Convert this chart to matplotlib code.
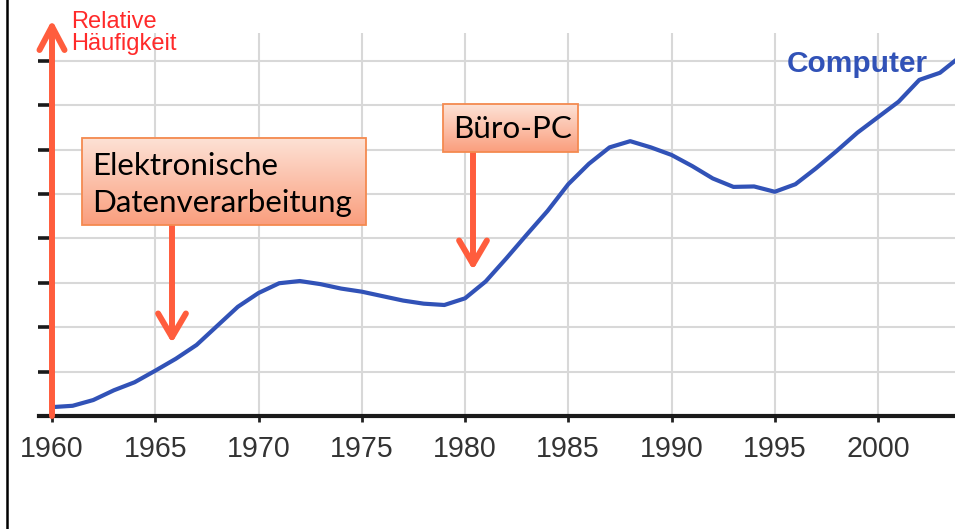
import matplotlib
matplotlib.use('Agg')
import matplotlib.pyplot as plt
import numpy as np
from matplotlib.patches import Rectangle
from matplotlib.lines import Line2D

# ---- data ----
years = [1960, 1961, 1962, 1963, 1964, 1965, 1966, 1967, 1968, 1969,
         1970, 1971, 1972, 1973, 1974, 1975, 1976, 1977, 1978, 1979,
         1980, 1981, 1982, 1983, 1984, 1985, 1986, 1987, 1988, 1989,
         1990, 1991, 1992, 1993, 1994, 1995, 1996, 1997, 1998, 1999,
         2000, 2001, 2002, 2003, 2004]
values = [0.20, 0.23, 0.36, 0.58, 0.76, 1.02, 1.29, 1.60, 2.03, 2.46,
          2.77, 2.99, 3.04, 2.97, 2.87, 2.80, 2.70, 2.60, 2.53, 2.50,
          2.65, 3.03, 3.55, 4.09, 4.62, 5.22, 5.68, 6.05, 6.19, 6.05,
          5.88, 5.63, 5.35, 5.16, 5.17, 5.05, 5.22, 5.58, 5.97, 6.38,
          6.73, 7.08, 7.57, 7.73, 8.10]
x_ticks = [1960, 1965, 1970, 1975, 1980, 1985, 1990, 1995, 2000]
x_tick_labels = ['1960', '1965', '1970', '1975', '1980', '1985', '1990', '1995', '2000']
series_label = 'Computer'
axis_label_lines = ['Relative', 'Häufigkeit']
annot_texts = ['Elektronische\nDatenverarbeitung', 'Büro-PC']

# ---- layout helpers (pixel -> data) ----
W, H = 955, 529
X0, PXY = 52, 20.65      # x pixel of 1960, pixels per year
Y0, PXV = 416, 44.4      # y pixel of value 0, pixels per unit

def dx(px):
    return 1960 + (px - X0) / PXY

def dy(py):
    return (Y0 - py) / PXV

fig = plt.figure(figsize=(W / 100, H / 100), dpi=100)
fig.patch.set_facecolor('white')
ax = fig.add_axes([X0 / W, (H - Y0) / H, (W - X0) / W, (Y0 - 33) / H])
ax.set_xlim(dx(52), dx(955))
ax.set_ylim(0, dy(33))

# grid
ax.set_yticks(range(0, 9))
ax.set_xticks(x_ticks)
ax.set_xticklabels(x_tick_labels, fontfamily='Liberation Sans')
ax.grid(True, color='#d8d8d8', lw=1.5, zorder=0)
for s in ['top', 'right', 'left']:
    ax.spines[s].set_visible(False)
ax.spines['bottom'].set_linewidth(3)
ax.spines['bottom'].set_color('#1a1a1a')
ax.tick_params(axis='y', length=10, width=2.6, color='#1a1a1a', labelleft=False, direction='out')
ax.tick_params(axis='x', length=4.5, width=2, color='#222222', labelsize=20.6,
               labelcolor='#333333', pad=9, direction='out')
# extend x axis line slightly left
ax.add_line(Line2D([dx(39), dx(52)], [0, 0], color='#1a1a1a', lw=3, clip_on=False))

# series line
ax.plot(years, values, color='#3152b7', lw=3.0, solid_capstyle='round',
        solid_joinstyle='round', zorder=3)
ax.text(dx(787), dy(72), series_label, color='#3152b7', fontsize=21.5,
        fontweight='bold', fontfamily='Liberation Sans', va='baseline', ha='left', zorder=4)

arrow_color = '#ff5d3d'

# y-axis arrow
ax.annotate('', xy=(dx(52), dy(20)), xytext=(dx(52), dy(416)),
            arrowprops=dict(arrowstyle='->, head_length=0.85, head_width=0.45',
                            mutation_scale=20, lw=4.3, color=arrow_color,
                            shrinkA=0, shrinkB=0),
            annotation_clip=False, zorder=5)
ax.text(dx(71), dy(28), axis_label_lines[0], color='#ff2a2a', fontsize=17,
        fontfamily='Liberation Sans', va='baseline', ha='left')
ax.text(dx(71), dy(50), axis_label_lines[1], color='#ff2a2a', fontsize=17,
        fontfamily='Liberation Sans', va='baseline', ha='left')

# gradient boxes
top_c = np.array([253, 226, 214]) / 255
bot_c = np.array([250, 158, 125]) / 255
grad = np.linspace(0, 1, 100)[:, None, None] * (bot_c - top_c) + top_c

def box(px0, px1, py0, py1):
    ax.imshow(grad, extent=[dx(px0), dx(px1), dy(py1), dy(py0)], aspect='auto',
              zorder=6, interpolation='bilinear')
    ax.add_patch(Rectangle((dx(px0), dy(py1)), dx(px1) - dx(px0), dy(py0) - dy(py1),
                           fill=False, edgecolor='#f48a50', lw=1.3, zorder=7))

box(82, 366, 138, 225)
box(443, 578, 104, 152)
ax.text(dx(92), dy(175), annot_texts[0].split('\n')[0], fontsize=22.6, fontfamily='Lato',
        color='black', va='baseline', ha='left', zorder=8)
ax.text(dx(92), dy(212), annot_texts[0].split('\n')[1], fontsize=22.6, fontfamily='Lato',
        color='black', va='baseline', ha='left', zorder=8)
ax.text(dx(453), dy(138), annot_texts[1], fontsize=22.6, fontfamily='Lato',
        color='black', va='baseline', ha='left', zorder=8)

# down arrows
for px, py_start, py_tip in [(172, 225, 343), (473, 152, 270)]:
    ax.annotate('', xy=(dx(px), dy(py_tip)), xytext=(dx(px), dy(py_start)),
                arrowprops=dict(arrowstyle='->, head_length=0.85, head_width=0.5',
                                mutation_scale=20, lw=4.3, color=arrow_color,
                                shrinkA=0, shrinkB=0),
                annotation_clip=False, zorder=5)

ax.set_xlim(dx(52), dx(955))
ax.set_ylim(0, dy(33))

# left border
fig.add_artist(Line2D([7 / W, 7 / W], [0, 1], color='black', lw=1.8))

fig.savefig('out.png', dpi=100)
